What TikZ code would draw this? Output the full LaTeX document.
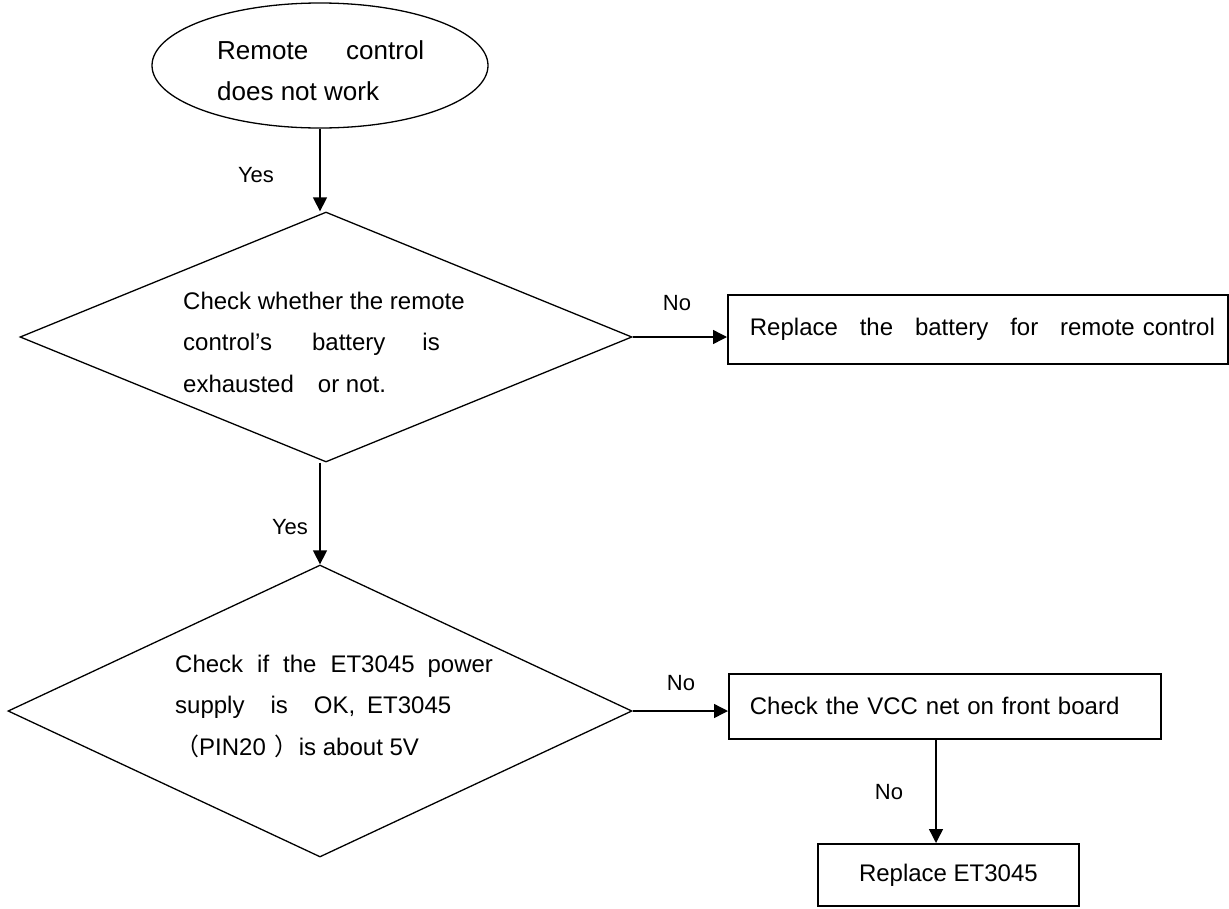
\documentclass[tikz,border=0pt]{standalone}
\usepackage{fontspec}
\setmainfont{Liberation Sans}
\newfontfamily\cjk{Noto Sans CJK SC}
\usetikzlibrary{shapes.geometric,arrows.meta}
\begin{document}
\begin{tikzpicture}[x=1pt,y=-1pt,
  thinline/.style={draw=black, line width=1.3pt},
  boxline/.style={draw=black, line width=1.8pt},
  arr/.style={-{Triangle[length=14pt,width=14pt]}, line width=1.4pt},
  boxtext/.style={font=\fontsize{24}{29}\selectfont},
  dtext/.style={font=\fontsize{24}{41.5}\selectfont, align=left, inner sep=0pt},
  lbl/.style={font=\fontsize{22}{26}\selectfont, inner sep=0pt}]
\useasboundingbox (0,0) rectangle (1229,908);

% start ellipse
\node[thinline, ellipse, minimum width=336pt, minimum height=125pt, inner sep=0pt] (start) at (320,65.5) {};
\node[font=\fontsize{26}{41}\selectfont, align=left, inner sep=0pt, anchor=base west] (starttext) at (217,100)
  {Remote\hspace{38pt}control\\does not work};

% decision 1
\node[thinline, diamond, minimum width=612pt, minimum height=250pt, inner sep=0pt] (d1) at (326,337) {};
\node[dtext, anchor=base west] (d1t) at (183,392)
  {Check whether the remote\\control’s\hspace{40pt}battery\hspace{37pt}is\\exhausted\hspace{24pt}or not.};

% box 1
\node[boxline, minimum width=500pt, minimum height=69pt, anchor=north west, inner ysep=0pt, inner xsep=13pt,
      boxtext, text width=474pt, align=left] (b1) at (727,294)
  {\hspace*{9pt}Replace\hfill the\hfill battery\hfill for\hfill remote control};

% decision 2
\node[thinline, diamond, minimum width=624pt, minimum height=292pt, inner sep=0pt] (d2) at (320,711) {};
\node[dtext, anchor=base west] (d2t) at (175,755)
  {Check\hspace{14pt}if\hspace{14pt}the\hspace{14pt}ET3045\hspace{13pt}power\\supply\hspace{26pt}is\hspace{26pt}OK,\hspace{12pt}ET3045\\{\cjk （}PIN20\hspace{9pt}{\cjk ）}is about 5V};

% box 2
\node[boxline, minimum width=432pt, minimum height=65pt, anchor=north west, inner ysep=0pt, inner xsep=21pt,
      boxtext, text width=390pt, align=left] (b2) at (728,673)
  {Check the VCC net on front board};

% box 3
\node[boxline, minimum width=261pt, minimum height=62pt, anchor=north west, inner sep=0pt,
      boxtext] (b3) at (817,843)
  {Replace ET3045};

% connectors
\draw[arr] (start.south) -- (start.south |- d1.north);
\draw[arr] (d1.east) -- (d1.east -| b1.west);
\draw[arr] (d2.north |- d1.south) -- (d2.north);
\draw[arr] (d2.east) -- (d2.east -| b2.west);
\coordinate (b2out) at (936,738);
\draw[arr] (b2out) -- (b2out |- b3.north);

% labels
\node[lbl] (l1) at (256,175) {Yes};
\node[lbl] (l2) at (677,303) {No};
\node[lbl] (l3) at (290,527) {Yes};
\node[lbl] (l4) at (681,683) {No};
\node[lbl] (l5) at (889,792) {No};
\end{tikzpicture}
\end{document}
